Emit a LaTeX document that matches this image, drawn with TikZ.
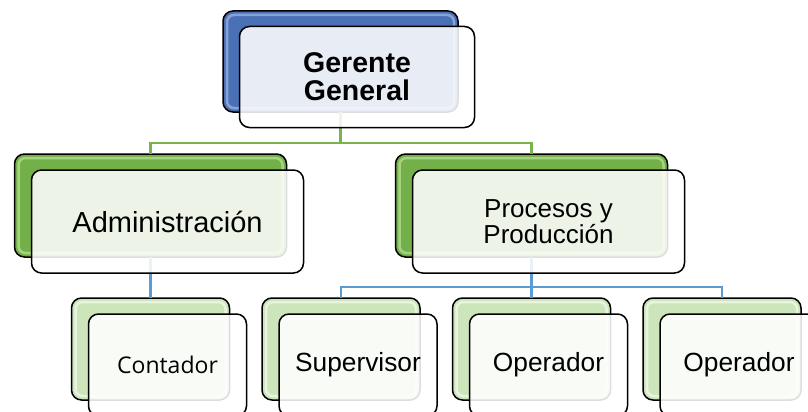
\documentclass[tikz,border=0pt]{standalone}
\usepackage{fontspec}
\setmainfont{Liberation Sans}
\newfontfamily\opensans{Open Sans}
\usetikzlibrary{calc}

\definecolor{bossblue}{HTML}{4A70B5}
\definecolor{bossglow}{HTML}{9DB4E0}
\definecolor{deptgreen}{HTML}{74B04A}
\definecolor{deptglow}{HTML}{B8E093}
\definecolor{staffgreen}{HTML}{CDE5BA}
\definecolor{staffglow}{HTML}{F2FAEC}
\definecolor{linkgreen}{HTML}{78B34E}
\definecolor{linkblue}{HTML}{5B9BD5}

\tikzset{
  x=1pt, y=-1pt,
  card/.style={rectangle, rounded corners=10pt, draw=black, line width=1.5pt,
               inner sep=0pt, outer sep=0pt},
  topsize/.style={minimum width=235pt, minimum height=101pt},
  midsize/.style={minimum width=272pt, minimum height=103pt},
  lowsize/.style={minimum width=158pt, minimum height=102pt},
  backtop/.style={card, topsize, fill=bossblue},
  backmid/.style={card, midsize, fill=deptgreen},
  backlow/.style={card, lowsize, fill=staffgreen},
  face/.style={card, fill=white, fill opacity=0.87, text opacity=1, align=center},
  glow/.style={rounded corners=7pt, line width=2.5pt, draw opacity=0.75},
  greenlink/.style={draw=linkgreen, line width=2.2pt},
  bluelink/.style={draw=linkblue, line width=2.5pt},
  bigtxt/.style={font=\fontsize{28.5}{28}\selectfont\bfseries},
  midtxt/.style={font=\fontsize{29}{30}\selectfont},
  twotxt/.style={font=\fontsize{26}{26}\selectfont},
  lowtxt/.style={font=\fontsize{26.3}{28}\selectfont},
  smalltxt/.style={font=\opensans\fontsize{23}{26}\selectfont},
}

\begin{document}
\begin{tikzpicture}
\clip (0,0) rectangle (808,412);
\fill[white] (0,0) rectangle (808,412);

% back plates
\node[backtop] (gg-b) at (340.5,61.5) {};
\node[backmid] (adm-b) at (150.5,205.5) {};
\node[backmid] (pp-b) at (531.5,205.5) {};
\node[backlow] (ct-b) at (150.5,349) {};
\node[backlow] (sv-b) at (341,349) {};
\node[backlow] (op1-b) at (531.5,349) {};
\node[backlow] (op2-b) at (722,349) {};

% glossy inner rims of the back plates
\draw[glow, draw=bossglow] ([shift={(4,4)}]gg-b.north west) rectangle ([shift={(-4,-4)}]gg-b.south east);
\foreach \n in {adm-b,pp-b}
  \draw[glow, draw=deptglow] ([shift={(4,4)}]\n.north west) rectangle ([shift={(-4,-4)}]\n.south east);
\foreach \n in {ct-b,sv-b,op1-b,op2-b}
  \draw[glow, draw=staffglow] ([shift={(4,4)}]\n.north west) rectangle ([shift={(-4,-4)}]\n.south east);

% connectors
\coordinate (gg-j) at ($(gg-b.south)+(0,31)$);
\draw[greenlink] (gg-b.south) -- (gg-j) -| (adm-b.north);
\draw[greenlink] (gg-j) -| (pp-b.north);
\draw[bluelink] (adm-b.south) -- (ct-b.north);
\coordinate (pp-j) at ($(pp-b.south)+(0,30)$);
\draw[bluelink] (pp-b.south) -- (pp-j);
\draw[bluelink] (pp-j) -| (sv-b.north);
\draw[bluelink] (pp-j) -| (op1-b.north);
\draw[bluelink] (pp-j) -| (op2-b.north);

% front cards with the titles
\node[face, topsize, bigtxt] (gg) at ($(gg-b)+(16.5,15.5)$) {Gerente\\General};
\node[face, midsize, midtxt] (adm) at ($(adm-b)+(17,16)$) {Administración};
\node[face, midsize, twotxt] (pp) at ($(pp-b)+(17,16)$) {Procesos y\\Producción};
\node[face, lowsize, smalltxt] (ct) at ($(ct-b)+(17,16)$) {Contador};
\node[face, lowsize, lowtxt] (sv) at ($(sv-b)+(17,16)$) {Supervisor};
\node[face, lowsize, lowtxt] (op1) at ($(op1-b)+(17,16)$) {Operador};
\node[face, lowsize, lowtxt] (op2) at ($(op2-b)+(17,16)$) {Operador};
\end{tikzpicture}
\end{document}
